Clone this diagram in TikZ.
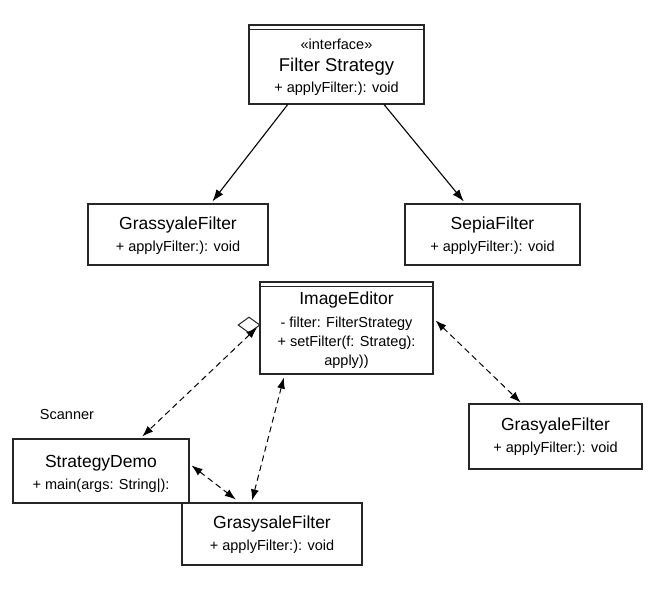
\documentclass[tikz,border=0pt]{standalone}
\usepackage{fontspec}
\setmainfont{Liberation Sans}
\usetikzlibrary{arrows.meta,calc,shapes.geometric}
\begin{document}
\begin{tikzpicture}[x=1pt,y=-1pt,
  box/.style={draw=black!85,line width=1.1pt,fill=white,inner sep=0pt},
  ttl/.style={font=\fontsize{17.5}{20}\selectfont,inner sep=0pt},
  big/.style={font=\fontsize{18.5}{21}\selectfont,inner sep=0pt},
  sub/.style={font=\fontsize{14.5}{17}\selectfont,inner sep=0pt},
  solidarrow/.style={line width=1.1pt,-{Latex[length=12pt,width=8.5pt]}},
  dasharrow/.style={line width=1pt,dash pattern=on 6pt off 4pt,{Latex[length=11pt,width=8pt]}-{Latex[length=11pt,width=8pt]}}
]
\useasboundingbox (0,0) rectangle (670,591);
\fill[white] (0,0) rectangle (670,591);

% Filter Strategy
\node[box,minimum width=175pt,minimum height=79pt] (fs) at (336.5,64.5) {};
\draw[line width=1.1pt,black!85] ($(fs.north west)+(0,5)$) -- ($(fs.north east)+(0,5)$);
\node[sub] (fs1) at (336.5,44) {«interface»};
\node[big] (fs2) at (336.5,67) {Filter Strategy};
\node[sub] (fs3) at (336.5,89) {+ applyFilter:): void};

% GrassyaleFilter
\node[box,minimum width=180pt,minimum height=61pt] (gf) at (178,234.5) {};
\node[ttl] (gf1) at (178,225) {GrassyaleFilter};
\node[sub] (gf2) at (178,248) {+ applyFilter:): void};

% SepiaFilter
\node[box,minimum width=175pt,minimum height=61pt] (sf) at (492.5,234.5) {};
\node[ttl] (sf1) at (492.5,225) {SepiaFilter};
\node[sub] (sf2) at (492.5,248) {+ applyFilter:): void};

% ImageEditor
\node[box,minimum width=173pt,minimum height=92pt] (ie) at (346.5,328) {};
\draw[line width=1.1pt,black!85] ($(ie.north west)+(0,5)$) -- ($(ie.north east)+(0,5)$);
\node[ttl] (ie1) at (346.5,300) {ImageEditor};
\node[sub] (ie2) at (346.5,324) {- filter: FilterStrategy};
\node[sub] (ie3) at (346.5,343) {+ setFilter(f: Strateg):};
\node[sub] (ie4) at (346.5,362) {apply))};

% diamond
\node[diamond,draw=black!85,line width=1pt,fill=white,minimum width=22pt,minimum height=16pt,inner sep=0pt] (dm) at (249,325) {};

% GrasyaleFilter (right)
\node[box,minimum width=173pt,minimum height=65pt] (gr) at (555.5,436.5) {};
\node[ttl] (gr1) at (555.5,426) {GrasyaleFilter};
\node[sub] (gr2) at (555.5,449) {+ applyFilter:): void};

% StrategyDemo
\node[box,minimum width=176pt,minimum height=64pt] (sd) at (101,471) {};
\node[ttl] (sd1) at (101,463) {StrategyDemo};
\node[sub] (sd2) at (101,486) {+ main(args: String|):};

% GrasysaleFilter (bottom)
\node[box,minimum width=180pt,minimum height=62pt] (gb) at (272,534) {};
\node[ttl] (gb1) at (272,524) {GrasysaleFilter};
\node[sub] (gb2) at (272,547) {+ applyFilter:): void};

% Scanner
\node[sub] (sc) at (67,415) {Scanner};

% solid arrows
\draw[solidarrow] ($(fs.south west)!0.223!(fs.south east)$) -- ($(gf.north west)!0.69!(gf.north east)+(0,-2)$);
\draw[solidarrow] ($(fs.south west)!0.77!(fs.south east)$) -- ($(sf.north west)!0.337!(sf.north east)+(0,-2)$);

% dashed arrows
\coordinate (dmend) at ($(dm.south east)!0.4!(dm.east)$);
\draw[dasharrow] (dmend) -- ($(sd.north west)!0.733!(sd.north east)+(0,-2)$);
\draw[dasharrow] ($(ie.north east)+(2,39)$) -- ($(gr.north west)!0.30!(gr.north east)+(0,-1)$);
\draw[dasharrow] ($(ie.south west)!0.14!(ie.south east)+(0,3)$) -- ($(gb.north west)!0.39!(gb.north east)+(0,-2)$);
\draw[dasharrow] ($(sd.north east)+(2,27)$) -- ($(gb.north west)!0.30!(gb.north east)+(0,-3)$);
\end{tikzpicture}
\end{document}
